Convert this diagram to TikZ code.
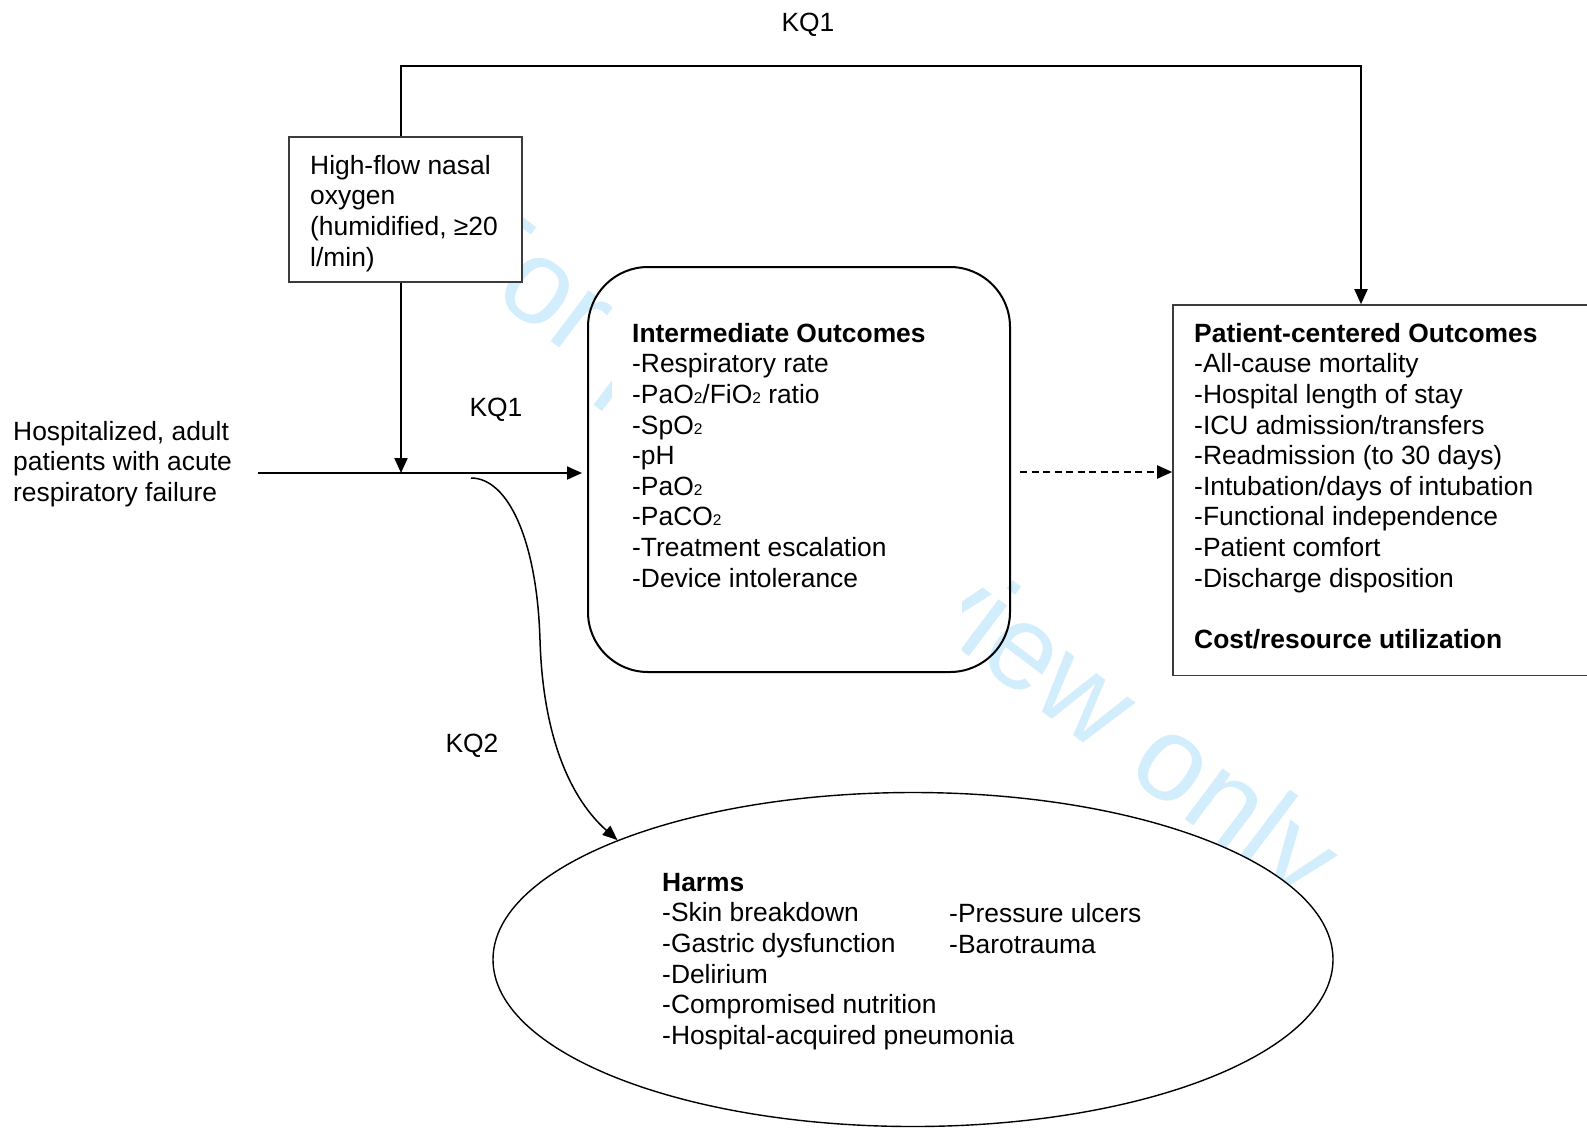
\documentclass[tikz,border=0pt]{standalone}
\usepackage{fontspec}
\setmainfont{Liberation Sans}
\usetikzlibrary{arrows.meta,shapes.geometric}
\definecolor{wmblue}{RGB}{210,237,251}
\definecolor{boxgray}{RGB}{60,60,60}
\newcommand{\lowtwo}{{\fontsize{15.5}{15.5}\selectfont 2}}
\begin{document}
\begin{tikzpicture}[x=1pt,y=-1pt,
  txt/.style={font=\fontsize{26.4}{30.6}\selectfont, inner sep=0pt, align=left, anchor=north west},
  lbl/.style={font=\fontsize{26.4}{30.6}\selectfont, inner sep=0pt},
  arr/.style={-{Triangle[length=15pt,width=13pt]}, line width=2pt},
  sqbox/.style={draw=boxgray, line width=1.6pt, fill=white, inner sep=0pt},
  rbox/.style={line width=2pt, rounded corners=60pt, inner sep=0pt, minimum width=422pt, minimum height=405pt},
  ebox/.style={ellipse, draw=black, line width=1.4pt, fill=white, inner sep=0pt}
]
\clip (0,0) rectangle (1587,1128);
\fill[white] (0,0) rectangle (1587,1128);

% rounded box fill (the watermark shows in its margins)
\node[rbox, fill=white] (interFill) at (799,469.5) {};

% watermark
\node[rotate=-37, anchor=base west, text=wmblue, font=\fontsize{120}{120}\selectfont, inner sep=0pt] (wm) at (432.4,252.1) {For peer review only};

% inner white text frame of the rounded box
\fill[white] (612,280) rectangle (962,662);
% rounded box border
\node[rbox, draw=black] (inter) at (799,469.5) {};

% other boxes
\node[sqbox, minimum width=233pt, minimum height=145pt] (hfno) at (405.5,209.5) {};
\node[sqbox, minimum width=427pt, minimum height=370.5pt] (pco) at (1386.5,490.25) {};
\node[ebox, minimum width=840pt, minimum height=334pt] (harms) at (913,959.5) {};

% coordinates
\coordinate (hstart) at (258,473);
\coordinate (junc) at (401,473);
\coordinate (topL) at (401,66);
\coordinate (topR) at (1361,66);
\coordinate (cstart) at (471,478);
\path (inter.west) ++(-5pt,0) coordinate (hend);
\path (inter.east) ++(9,2.5) coordinate (dstart);

% connectors
\draw[arr] (hstart) -- (hstart -| hend);
\draw[arr] (hfno.south -| junc) -- (junc);
\draw[arr, line join=miter] (hfno.north -| topL) -- (topL) -- (topR) -- (pco.north -| topR);
\draw[arr, dash pattern=on 7pt off 4.5pt] (dstart) -- (dstart -| pco.west);
\draw[-{Triangle[length=15pt,width=12pt]}, line width=1.5pt] (cstart) .. controls (508,478) and (537,540) .. (540,640) .. controls (543,740) and (572,800) .. (harms.158);

% labels
\node[lbl] (kq1top) at (808,25) {KQ1};
\node[lbl] (kq1mid) at (496,410) {KQ1};
\node[lbl] (kq2) at (472,746) {KQ2};

% texts
\node[txt] (hfnoT) at (310,155) {High-flow nasal\\oxygen\\(humidified, ≥20\\l/min)};
\node[txt] (pop) at (13,421) {Hospitalized, adult\\patients with acute\\respiratory failure};
\node[txt] (interT) at (632,323) {\textbf{Intermediate Outcomes}\\-Respiratory rate\\-PaO\lowtwo/FiO\lowtwo{} ratio\\-SpO\lowtwo\\-pH\\-PaO\lowtwo\\-PaCO\lowtwo\\-Treatment escalation\\-Device intolerance};
\node[txt] (pcoT) at (1194,323) {\textbf{Patient-centered Outcomes}\\-All-cause mortality\\-Hospital length of stay\\-ICU admission/transfers\\-Readmission (to 30 days)\\-Intubation/days of intubation\\-Functional independence\\-Patient comfort\\-Discharge disposition\\[30.6pt]\textbf{Cost/resource utilization}};
\node[txt] (harmsA) at (662,873) {\textbf{Harms}\\-Skin breakdown\\-Gastric dysfunction\\-Delirium\\-Compromised nutrition\\-Hospital-acquired pneumonia};
\node[txt] (harmsB) at (949,903.5) {-Pressure ulcers\\-Barotrauma};
\end{tikzpicture}
\end{document}
